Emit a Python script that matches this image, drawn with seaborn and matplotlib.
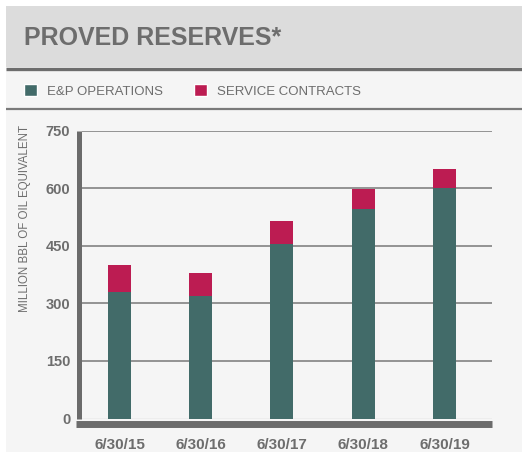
import pandas as pd
import matplotlib.pyplot as plt
import seaborn as sns
from matplotlib.patches import Rectangle, Patch

# chart values (million bbl of oil equivalent)
dates = ["6/30/15", "6/30/16", "6/30/17", "6/30/18", "6/30/19"]
ep_operations = [330, 320, 455, 545, 600]
service_contracts = [70, 60, 60, 52, 50]
y_ticks = [0, 150, 300, 450, 600, 750]

TEAL = "#426b69"
CRIMSON = "#bc1c52"
TEXT = "#6d6d6d"
PANEL = "#f5f5f5"

df = pd.DataFrame({"date": dates, "ep": ep_operations, "sc": service_contracts})
df["total"] = df["ep"] + df["sc"]

sns.set_theme(style="white")
plt.rcParams["font.family"] = ["Liberation Sans", "DejaVu Sans"]

W, H = 522, 454
fig = plt.figure(figsize=(W / 100, H / 100), dpi=100, facecolor="white")

# background panel drawn in pixel coords
bg = fig.add_axes([0, 0, 1, 1], zorder=-1)
bg.set_xlim(0, W)
bg.set_ylim(H, 0)
bg.axis("off")
bg.add_patch(Rectangle((6, 6), W - 6, H - 8, facecolor=PANEL, edgecolor="none"))
bg.add_patch(Rectangle((6, 6), W - 6, 61, facecolor="#dcdcdc", edgecolor="none"))
bg.plot([6, W], [68.5, 68.5], color="#6d6d6d", lw=2.4, solid_capstyle="butt")
bg.plot([6, W], [108.5, 108.5], color="#7a7a7a", lw=1.6, solid_capstyle="butt")
bg.text(24, 38, "PROVED RESERVES*", fontsize=18, fontweight="bold", color=TEXT,
        va="center", ha="left")

# main chart
ax = fig.add_axes([81 / W, (H - 418.5) / H, (492 - 81) / W, (418.5 - 130.5) / H])
ax.set_facecolor("none")
sns.barplot(data=df, x="date", y="total", color=CRIMSON, width=0.283,
            saturation=1, linewidth=0, ax=ax, zorder=3)
sns.barplot(data=df, x="date", y="ep", color=TEAL, width=0.283,
            saturation=1, linewidth=0, ax=ax, zorder=3)

ax.set_xlim(-0.474, 4.585)
ax.set_ylim(0, 750)
ax.set_yticks(y_ticks)
ax.yaxis.grid(True, color="#787878", lw=1.1)
ax.xaxis.grid(False)
ax.set_axisbelow(True)
for gl in ax.get_ygridlines():
    gl.set_clip_on(False)

# thin white inner edge next to the thick axis lines
ax.axhline(0, color="white", lw=1.2, zorder=2)
ax.axvline(-0.474, color="white", lw=1.2, zorder=2)

for s in ["top", "right"]:
    ax.spines[s].set_visible(False)
ax.spines["left"].set_color("#6b6b6b")
ax.spines["left"].set_linewidth(3.6)
ax.spines["left"].set_position(("outward", 1.8))
ax.spines["left"].set_capstyle("butt")
ax.spines["bottom"].set_color("#6b6b6b")
ax.spines["bottom"].set_linewidth(5)
ax.spines["bottom"].set_position(("outward", 4))
ax.spines["bottom"].set_bounds(-0.536, 4.585)
ax.spines["bottom"].set_capstyle("butt")

ax.tick_params(axis="y", length=0, pad=6, labelsize=10.5, labelcolor=TEXT)
ax.tick_params(axis="x", length=0, pad=10, labelsize=11, labelcolor=TEXT)
for lab in ax.get_xticklabels() + ax.get_yticklabels():
    lab.set_fontweight("bold")

ax.set_xlabel("")
ax.set_ylabel("MILLION BBL OF OIL EQUIVALENT", fontsize=8.3, color=TEXT)
ax.yaxis.set_label_coords((31.5 - 81) / (492 - 81), (418.5 - 218) / 288)

# legend
handles = [Patch(facecolor=TEAL, label="E&P OPERATIONS"),
           Patch(facecolor=CRIMSON, label="SERVICE CONTRACTS")]
fig.legend(handles=handles, loc="center left", bbox_to_anchor=(24 / W, 1 - 91 / H),
           ncol=2, frameon=False, fontsize=9.5, labelcolor=TEXT,
           handlelength=1.0, handleheight=1.0, handletextpad=0.76,
           columnspacing=2.35, borderpad=0, borderaxespad=0)

fig.savefig("out.png", dpi=100, facecolor="white")
plt.close()
